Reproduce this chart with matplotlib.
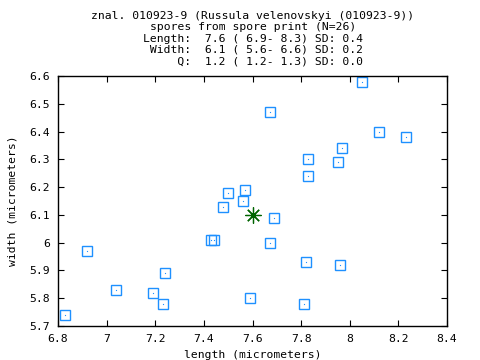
import matplotlib
matplotlib.use("Agg")
import matplotlib.pyplot as plt

# spore measurements (micrometers)
length = [6.83, 6.92, 7.04, 7.19, 7.23, 7.24, 7.43, 7.44, 7.48, 7.50,
          7.56, 7.57, 7.59, 7.67, 7.69, 7.67, 7.82, 7.81, 7.83, 7.83,
          7.95, 7.97, 7.96, 8.05, 8.12, 8.23]
width = [5.74, 5.97, 5.83, 5.82, 5.78, 5.89, 6.01, 6.01, 6.13, 6.18,
         6.15, 6.19, 5.80, 6.00, 6.09, 6.47, 5.93, 5.78, 6.30, 6.24,
         6.29, 6.34, 5.92, 6.58, 6.40, 6.38]
mean_len = 7.6
mean_wid = 6.1

title_lines = [
    "znal. 010923-9 (Russula velenovskyi (010923-9))",
    "spores from spore print (N=26)",
    "Length:  7.6 ( 6.9- 8.3) SD: 0.4",
    " Width:  6.1 ( 5.6- 6.6) SD: 0.2",
    "     Q:  1.2 ( 1.2- 1.3) SD: 0.0",
]
xticks = [6.8, 7.0, 7.2, 7.4, 7.6, 7.8, 8.0, 8.2, 8.4]
yticks = [5.7, 5.8, 5.9, 6.0, 6.1, 6.2, 6.3, 6.4, 6.5, 6.6]

MONO = "DejaVu Sans Mono"
FS = 8.2
BLUE = "#1e90ff"
GREEN = "#006400"

fig = plt.figure(figsize=(4.8, 3.6), dpi=100)
ax = fig.add_axes([58 / 480, 1 - 326 / 360, 389 / 480, 250 / 360])

# spores: open box with a dot in the middle
ax.plot(length, width, ls="none", marker="s", ms=7.2, mfc="none",
        mec=BLUE, mew=1.0)
ax.plot(length, width, ls="none", marker="s", ms=0.8, mfc=BLUE, mec="none")
# mean: asterisk
ax.plot([mean_len], [mean_wid], ls="none", marker=(8, 2, 0), ms=11.5,
        mec=GREEN, mew=0.9)
ax.plot([mean_len], [mean_wid], ls="none", marker="o", ms=2.2,
        mfc=GREEN, mec="none")

ax.set_xlim(6.8, 8.4)
ax.set_ylim(5.7, 6.6)
ax.set_xticks(xticks)
ax.set_yticks(yticks)
ax.set_xticklabels([f"{v:g}" for v in xticks], family=MONO, fontsize=FS)
ax.set_yticklabels([f"{v:g}" for v in yticks], family=MONO, fontsize=FS)
ax.tick_params(direction="in", length=4.5, width=0.8, top=True, right=True,
               pad=6)
for s in ax.spines.values():
    s.set_linewidth(1.0)

ax.set_xlabel("length (micrometers)", family=MONO, fontsize=FS, labelpad=4)
ax.set_ylabel("width (micrometers)", family=MONO, fontsize=FS, labelpad=8.5)

for i, line in enumerate(title_lines):
    fig.text(253 / 480, 1 - (16 + i * 11.3) / 360, line, family=MONO,
             fontsize=FS, ha="center", va="center")

fig.savefig("out.png", dpi=100)
